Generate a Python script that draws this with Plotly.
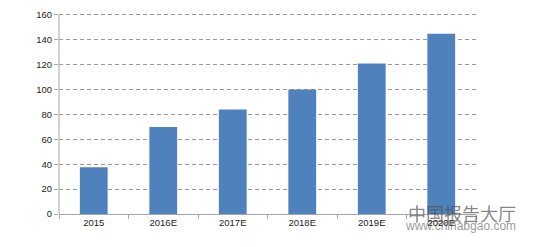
import plotly.graph_objects as go

categories = ["2015", "2016E", "2017E", "2018E", "2019E", "2020E"]
values = [37.5, 70, 84, 100, 121, 145]
y_ticks = [0, 20, 40, 60, 80, 100, 120, 140, 160]

fig = go.Figure()
fig.add_trace(go.Bar(x=categories, y=values, marker=dict(color="#4F81BD", line=dict(width=0))))

fig.update_layout(
    width=536, height=247,
    margin=dict(l=59, r=60, t=10, b=33),
    paper_bgcolor="white", plot_bgcolor="white",
    bargap=0.6, showlegend=False,
    font=dict(family="Liberation Sans, Arial, sans-serif", size=9.5, color="#222222"),
)
fig.update_yaxes(
    range=[0, 164], tickvals=y_ticks, showgrid=True, gridcolor="#9a9a9a", griddash="4px,3px", gridwidth=1,
    showline=False, ticks="outside", ticklen=4, tickcolor="#a6a6a6",
    zeroline=False,
)
fig.update_xaxes(
    showline=True, linecolor="#a6a6a6", linewidth=1, ticks="outside", ticklen=4, tickcolor="#a6a6a6",
    tickson="boundaries",
)
fig.add_shape(type="line", xref="paper", yref="y", x0=0, x1=0, y0=0, y1=y_ticks[-1],
              line=dict(color="#a6a6a6", width=1))
fig.add_annotation(x=1.10, y=0.005, xref="paper", yref="paper", xanchor="right", yanchor="middle",
                   text="中国报告大厅", showarrow=False,
                   font=dict(family="Noto Sans CJK SC", size=18, color="rgba(80,80,80,0.7)"))
fig.add_annotation(x=1.10, y=-0.06, xref="paper", yref="paper", xanchor="right", yanchor="middle",
                   text="www.chinabgao.com", showarrow=False,
                   font=dict(family="Liberation Sans, Arial", size=12, color="rgba(80,80,80,0.6)"))
fig.write_html("out.html")
